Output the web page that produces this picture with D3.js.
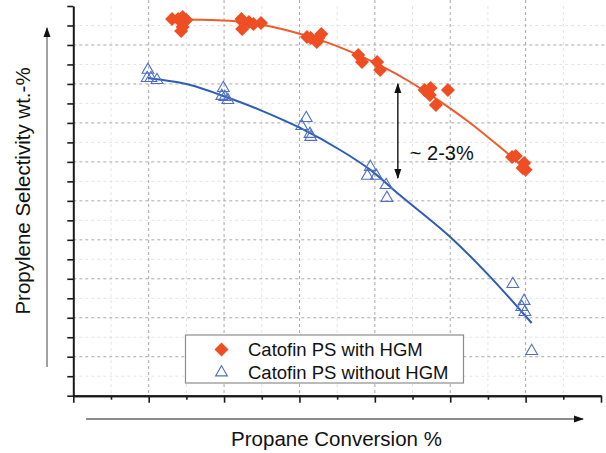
<!DOCTYPE html>
<html>
<head>
<meta charset="utf-8">
<script src="https://cdn.jsdelivr.net/npm/d3@7"></script>
<style>
  html, body { margin: 0; padding: 0; background: #fff; }
  svg { display: block; font-family: "Liberation Sans", Arial, sans-serif; }
</style>
</head>
<body>
<svg id="chart" width="606" height="453"></svg>
<script>
// values (no tick labels in the original)
const withHgmX = [33.1, 33.9, 34.5, 35.0, 34.5, 34.3,
                  42.3, 42.5, 42.4, 43.3, 43.9, 44.9,
                  51.0, 51.5, 52.5, 52.9, 52.3,
                  57.8, 58.3, 60.3, 60.7,
                  66.6, 67.4, 67.3, 68.1, 69.7,
                  78.2, 78.7, 79.8, 80.0, 79.6];
const withHgmY = [99.33, 99.33, 99.44, 99.28, 98.92, 98.72,
                  99.33, 99.18, 98.82, 99.18, 99.08, 99.13,
                  98.41, 98.36, 98.36, 98.56, 98.15,
                  97.49, 97.13, 97.13, 96.72,
                  95.69, 95.79, 95.43, 94.92, 95.69,
                  92.25, 92.30, 91.94, 91.59, 91.69];

const withoutHgmX = [29.9, 29.8, 30.3, 31.1,
                     39.9, 39.7, 40.1, 40.5,
                     50.9, 50.3, 51.4, 51.5,
                     59.4, 59.0, 60.2, 61.5, 61.6,
                     78.3, 79.8, 79.5, 79.9, 80.8];
const withoutHgmY = [96.72, 96.30, 96.30, 96.20,
                     95.79, 95.38, 95.33, 95.17,
                     94.25, 93.84, 93.43, 93.28,
                     91.74, 91.28, 91.28, 90.81, 90.15,
                     85.73, 84.86, 84.55, 84.29, 82.29];

// trend curves as drawn
const withHgmFitX = [34.8, 40.8, 44.8, 48.7, 52.7, 56.7, 60.7, 64.7, 68.6, 72.6, 76.6, 80.3];
const withHgmFitY = [99.31, 99.24, 99.05, 98.72, 98.26, 97.67, 96.95, 96.10, 95.12, 94.01, 92.76, 91.53];
const withoutHgmFitX = [29.9, 35.5, 39.9, 44.8, 50.1, 55.4, 59.4, 63.3, 70.0, 75.3, 80.8];
const withoutHgmFitY = [96.30, 95.95, 95.38, 94.66, 93.74, 92.61, 91.59, 90.30, 88.15, 86.10, 83.73];

const xMajor = [20, 30, 40, 50, 60, 70, 80, 90];
const xMinor = [25, 35, 45, 55, 65, 75, 85];
const yMajor = [80, 82, 84, 86, 88, 90, 92, 94, 96, 98, 100];
const yMinor = [81, 83, 85, 87, 89, 91, 93, 95, 97, 99];

const seriesNames = ["Catofin PS with HGM", "Catofin PS without HGM"];
const gapLabel = "~ 2-3%";
const gapX = 63.05, gapTop = 96.0, gapBottom = 91.17;

const red = "#ee4e22";
const blue = "#2d5db4";
const blueMark = "#4f6fc6";

const svg = d3.select("#chart");

const plotLeft = 73.3, plotRight = 601, plotTop = 6, plotBottom = 395.7;

const x = d3.scaleLinear().domain([20, 90]).range([plotLeft, plotRight]);
const y = d3.scaleLinear().domain([80, 100]).range([plotBottom, plotTop]);

const defs = svg.append("defs");
defs.append("marker")
    .attr("id", "head")
    .attr("viewBox", "0 0 10 10")
    .attr("refX", 9).attr("refY", 5)
    .attr("markerWidth", 10).attr("markerHeight", 10)
    .attr("markerUnits", "userSpaceOnUse")
    .attr("orient", "auto-start-reverse")
  .append("path")
    .attr("d", "M0,1.5 L10,5 L0,8.5 Z")
    .attr("fill", "#111");

// grid
const grid = svg.append("g");
grid.selectAll(".vminor")
  .data(xMinor)
  .enter().append("line")
    .attr("x1", d => x(d)).attr("x2", d => x(d))
    .attr("y1", plotTop).attr("y2", plotBottom)
    .attr("stroke", "#e4e4e4").attr("stroke-dasharray", "3,3");
grid.selectAll(".hminor")
  .data(yMinor)
  .enter().append("line")
    .attr("x1", plotLeft).attr("x2", 606)
    .attr("y1", d => y(d)).attr("y2", d => y(d))
    .attr("stroke", "#e4e4e4").attr("stroke-dasharray", "3,3");
grid.selectAll(".vmajor")
  .data(xMajor.slice(1, -1))
  .enter().append("line")
    .attr("x1", d => x(d)).attr("x2", d => x(d))
    .attr("y1", 0).attr("y2", plotBottom)
    .attr("stroke", "#a8a8a8").attr("stroke-dasharray", "3,3");
grid.selectAll(".hmajor")
  .data(yMajor.slice(1, -1))
  .enter().append("line")
    .attr("x1", plotLeft).attr("x2", 606)
    .attr("y1", d => y(d)).attr("y2", d => y(d))
    .attr("stroke", "#a8a8a8").attr("stroke-dasharray", "3,3");

// axes
const axisStyle = g => {
  g.select(".domain").attr("stroke", "#1a1a1a").attr("stroke-width", 2);
  g.selectAll(".tick line").attr("stroke", "#1a1a1a").attr("stroke-width", 1.6);
};

svg.append("g")
    .attr("transform", `translate(0, ${plotBottom})`)
    .call(d3.axisBottom(x).tickValues(xMinor).tickSize(4).tickSizeOuter(0).tickFormat(""))
    .call(axisStyle);
svg.append("g")
    .attr("transform", `translate(0, ${plotBottom})`)
    .call(d3.axisBottom(x).tickValues(xMajor).tickSize(7).tickSizeOuter(0).tickFormat(""))
    .call(axisStyle);
svg.append("g")
    .attr("transform", `translate(${plotLeft}, 0)`)
    .call(d3.axisLeft(y).tickValues(yMajor.concat(yMinor)).tickSize(6).tickSizeOuter(0).tickFormat(""))
    .call(axisStyle);

// direction arrows beside the axes
svg.append("line")
    .attr("x1", 47).attr("x2", 47)
    .attr("y1", 367).attr("y2", 28)
    .attr("stroke", "#8a8a8a").attr("stroke-width", 1.6)
    .attr("marker-end", "url(#head)");
svg.append("line")
    .attr("x1", 86).attr("x2", 583)
    .attr("y1", 419).attr("y2", 419)
    .attr("stroke", "#666").attr("stroke-width", 1.6)
    .attr("marker-end", "url(#head)");

svg.append("text")
    .attr("transform", "translate(29.5, 191) rotate(-90)")
    .attr("text-anchor", "middle")
    .attr("font-size", 20.5)
    .attr("fill", "#111")
    .text("Propylene Selectivity wt.-%");
svg.append("text")
    .attr("x", 336.5).attr("y", 446)
    .attr("text-anchor", "middle")
    .attr("font-size", 20.5)
    .attr("fill", "#111")
    .text("Propane Conversion %");

// fit curves
const line = d3.line()
  .x(d => x(d[0]))
  .y(d => y(d[1]))
  .curve(d3.curveCatmullRom);

svg.append("path")
    .datum(withHgmFitX.map((v, i) => [v, withHgmFitY[i]]))
    .attr("d", line)
    .attr("fill", "none")
    .attr("stroke", "#f15a29").attr("stroke-width", 2);
svg.append("path")
    .datum(withoutHgmFitX.map((v, i) => [v, withoutHgmFitY[i]]))
    .attr("d", line)
    .attr("fill", "none")
    .attr("stroke", blue).attr("stroke-width", 2);

// markers
const diamond = d3.symbol().type(d3.symbolSquare).size(98);
const triangle = d3.symbol().type(d3.symbolTriangle).size(60);

svg.append("g").selectAll("path")
  .data(withHgmX.map((v, i) => [v, withHgmY[i]]))
  .enter().append("path")
    .attr("d", diamond)
    .attr("transform", d => `translate(${x(d[0])}, ${y(d[1])}) rotate(45)`)
    .attr("fill", red);

svg.append("g").selectAll("path")
  .data(withoutHgmX.map((v, i) => [v, withoutHgmY[i]]))
  .enter().append("path")
    .attr("d", triangle)
    .attr("transform", d => `translate(${x(d[0])}, ${y(d[1])})`)
    .attr("fill", "none")
    .attr("stroke", blueMark).attr("stroke-width", 1.1);

// gap annotation
svg.append("line")
    .attr("x1", x(gapX)).attr("x2", x(gapX))
    .attr("y1", y(gapTop)).attr("y2", y(gapBottom))
    .attr("stroke", "#111").attr("stroke-width", 1.4)
    .attr("marker-start", "url(#head)")
    .attr("marker-end", "url(#head)");
svg.append("text")
    .attr("x", x(gapX) + 12).attr("y", 159.5)
    .attr("font-size", 20)
    .attr("fill", "#111")
    .text(gapLabel);

// legend
const legend = svg.append("g")
  .attr("transform", "translate(185.5, 335)");
legend.append("rect")
    .attr("width", 278).attr("height", 48)
    .attr("fill", "#fff")
    .attr("stroke", "#8c8c8c").attr("stroke-width", 1.2);
legend.append("path")
    .attr("d", diamond)
    .attr("transform", "translate(36, 14.5) rotate(45)")
    .attr("fill", red);
legend.append("path")
    .attr("d", triangle)
    .attr("transform", "translate(36, 37.5)")
    .attr("fill", "none")
    .attr("stroke", blueMark).attr("stroke-width", 1.1);
legend.selectAll("text")
  .data(seriesNames)
  .enter().append("text")
    .attr("x", 62.5)
    .attr("y", (d, i) => 21 + i * 22.7)
    .attr("font-size", 18.5)
    .attr("fill", "#111")
    .text(d => d);
</script>
</body>
</html>
